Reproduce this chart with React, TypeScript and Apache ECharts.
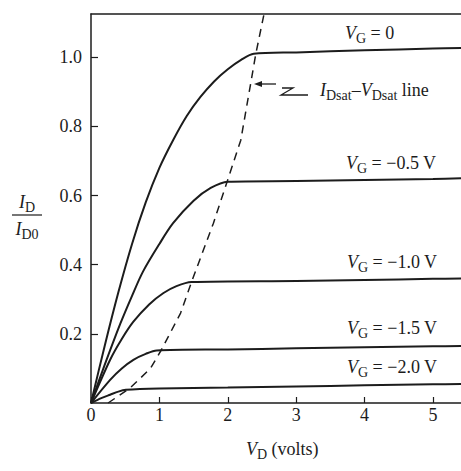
import React, { useEffect, useRef } from "react";
import * as echarts from "echarts";

// V_D values (volts) and normalized current I_D/I_D0 for each gate voltage
const vg0X = [0, 0.2, 0.4, 0.6, 0.8, 1.0, 1.2, 1.4, 1.6, 1.8, 2.0, 2.2, 2.38, 3, 4, 5, 5.41];
const vg0Y = [0, 0.165, 0.32, 0.46, 0.58, 0.68, 0.76, 0.83, 0.885, 0.93, 0.965, 0.993, 1.01, 1.014, 1.02, 1.025, 1.027];

const vg05X = [0, 0.2, 0.43, 0.6, 0.76, 1.0, 1.2, 1.5, 1.75, 2.0, 3, 4, 5, 5.41];
const vg05Y = [0, 0.11, 0.23, 0.31, 0.38, 0.46, 0.52, 0.585, 0.622, 0.64, 0.642, 0.645, 0.648, 0.65];

const vg10X = [0, 0.28, 0.45, 0.62, 0.85, 1.06, 1.25, 1.47, 3, 4, 5, 5.41];
const vg10Y = [0, 0.125, 0.185, 0.235, 0.285, 0.318, 0.338, 0.35, 0.353, 0.356, 0.359, 0.36];

const vg15X = [0, 0.28, 0.45, 0.62, 0.8, 0.96, 2, 3, 4, 5, 5.41];
const vg15Y = [0, 0.067, 0.1, 0.125, 0.142, 0.152, 0.155, 0.158, 0.161, 0.164, 0.165];

const vg20X = [0, 0.15, 0.28, 0.4, 0.51, 1, 2, 3, 4, 5, 5.41];
const vg20Y = [0, 0.014, 0.024, 0.033, 0.038, 0.042, 0.045, 0.048, 0.051, 0.054, 0.055];

// I_Dsat - V_Dsat locus (dashed)
const satX = [0.25, 0.57, 0.87, 1.03, 1.31, 1.47, 1.79, 1.99, 2.19, 2.34, 2.41, 2.53];
const satY = [0, 0.043, 0.1, 0.154, 0.26, 0.35, 0.52, 0.64, 0.76, 0.93, 1.01, 1.125];

const xTicks = [0, 1, 2, 3, 4, 5];
const yTicks = [0.2, 0.4, 0.6, 0.8, 1.0];

const F = "'Liberation Serif', 'Times New Roman', serif";
const INK = "#1c1c1c";

const pair = (xs: number[], ys: number[]) => xs.map((x, i) => [x, ys[i]]);

const rich = {
  i: { fontFamily: F, fontSize: 18, fontStyle: "italic", lineHeight: 22, fill: INK },
  n: { fontFamily: F, fontSize: 18, lineHeight: 22, fill: INK },
  s: { fontFamily: F, fontSize: 14, lineHeight: 14, padding: [10, 0, 0, 0], fill: INK },
};

const txt = (x: number, y: number, text: string, align = "left") => ({
  type: "text",
  x,
  y,
  style: { text, rich, align, verticalAlign: "middle", fill: INK },
});

export default function App() {
  const ref = useRef<HTMLDivElement>(null);
  useEffect(() => {
    const chart = echarts.init(ref.current!, null, { renderer: "svg" });
    const curve = (xs: number[], ys: number[]) => ({
      type: "line",
      data: pair(xs, ys),
      showSymbol: false,
      smooth: 0.3,
      lineStyle: { color: INK, width: 2 },
      silent: true,
    });
    chart.setOption({
      animation: false,
      backgroundColor: "#fff",
      grid: { left: 91, right: 0, top: 14, bottom: 68 },
      xAxis: [
        {
          type: "value",
          min: 0,
          max: 5.41,
          interval: 1,
          axisLine: { show: true, lineStyle: { color: INK, width: 1.5 } },
          axisTick: { show: true, inside: true, length: 6, lineStyle: { color: INK, width: 1.2 } },
          axisLabel: {
            margin: 3,
            fontFamily: F,
            fontSize: 18,
            color: INK,
            showMaxLabel: false,
            formatter: (v: number) => (xTicks.includes(v) ? String(v) : ""),
          },
          splitLine: { show: false },
        },
        {
          type: "value",
          position: "top",
          min: 0,
          max: 5.41,
          axisLine: { show: true, lineStyle: { color: INK, width: 1.5 } },
          axisTick: { show: false },
          axisLabel: { show: false },
          splitLine: { show: false },
        },
      ],
      yAxis: {
        type: "value",
        min: 0,
        max: 1.125,
        interval: 0.2,
        axisLine: { show: true, lineStyle: { color: INK, width: 1.5 } },
        axisTick: { show: true, inside: true, length: 7, lineStyle: { color: INK, width: 1.2 } },
        axisLabel: {
          margin: 9,
          fontFamily: F,
          fontSize: 18,
          color: INK,
          showMinLabel: false,
          showMaxLabel: false,
          formatter: (v: number) =>
            yTicks.some((t) => Math.abs(t - v) < 1e-6) ? v.toFixed(1) : "",
        },
        splitLine: { show: false },
      },
      series: [
        curve(vg0X, vg0Y),
        curve(vg05X, vg05Y),
        curve(vg10X, vg10Y),
        curve(vg15X, vg15Y),
        curve(vg20X, vg20Y),
        {
          type: "line",
          data: pair(satX, satY),
          showSymbol: false,
          smooth: false,
          lineStyle: { color: INK, width: 1.5, type: [8, 6] },
          silent: true,
        },
      ],
      graphic: [
        txt(345, 33, "{i|V}{s|G}{n| = 0}"),
        txt(346, 163, "{i|V}{s|G}{n| = −0.5 V}"),
        txt(347, 262, "{i|V}{s|G}{n| = −1.0 V}"),
        txt(347, 328, "{i|V}{s|G}{n| = −1.5 V}"),
        txt(347, 367, "{i|V}{s|G}{n| = −2.0 V}"),
        txt(320, 90, "{i|I}{s|Dsat}{n|–}{i|V}{s|Dsat}{n| line}"),
        txt(246, 449, "{i|V}{s|D}{n| (volts)}"),
        txt(27, 202, "{i|I}{s|D}", "center"),
        txt(27, 229, "{i|I}{s|D0}", "center"),
        {
          type: "line",
          shape: { x1: 12, y1: 215, x2: 42, y2: 215 },
          style: { stroke: INK, lineWidth: 1.2 },
        },
        {
          type: "polyline",
          shape: { points: [[258, 84], [276, 84]] },
          style: { stroke: INK, lineWidth: 1.3, fill: "none" },
        },
        {
          type: "polyline",
          shape: { points: [[282, 88], [293, 88], [281, 95], [308, 95]] },
          style: { stroke: INK, lineWidth: 1.3, fill: "none" },
        },
        {
          type: "polygon",
          shape: { points: [[254, 84], [262, 81], [262, 87]] },
          style: { fill: INK },
        },
      ],
    });
    return () => chart.dispose();
  }, []);
  return <div ref={ref} style={{ width: 461, height: 471, position: "absolute", left: 0, top: 0 }} />;
}
